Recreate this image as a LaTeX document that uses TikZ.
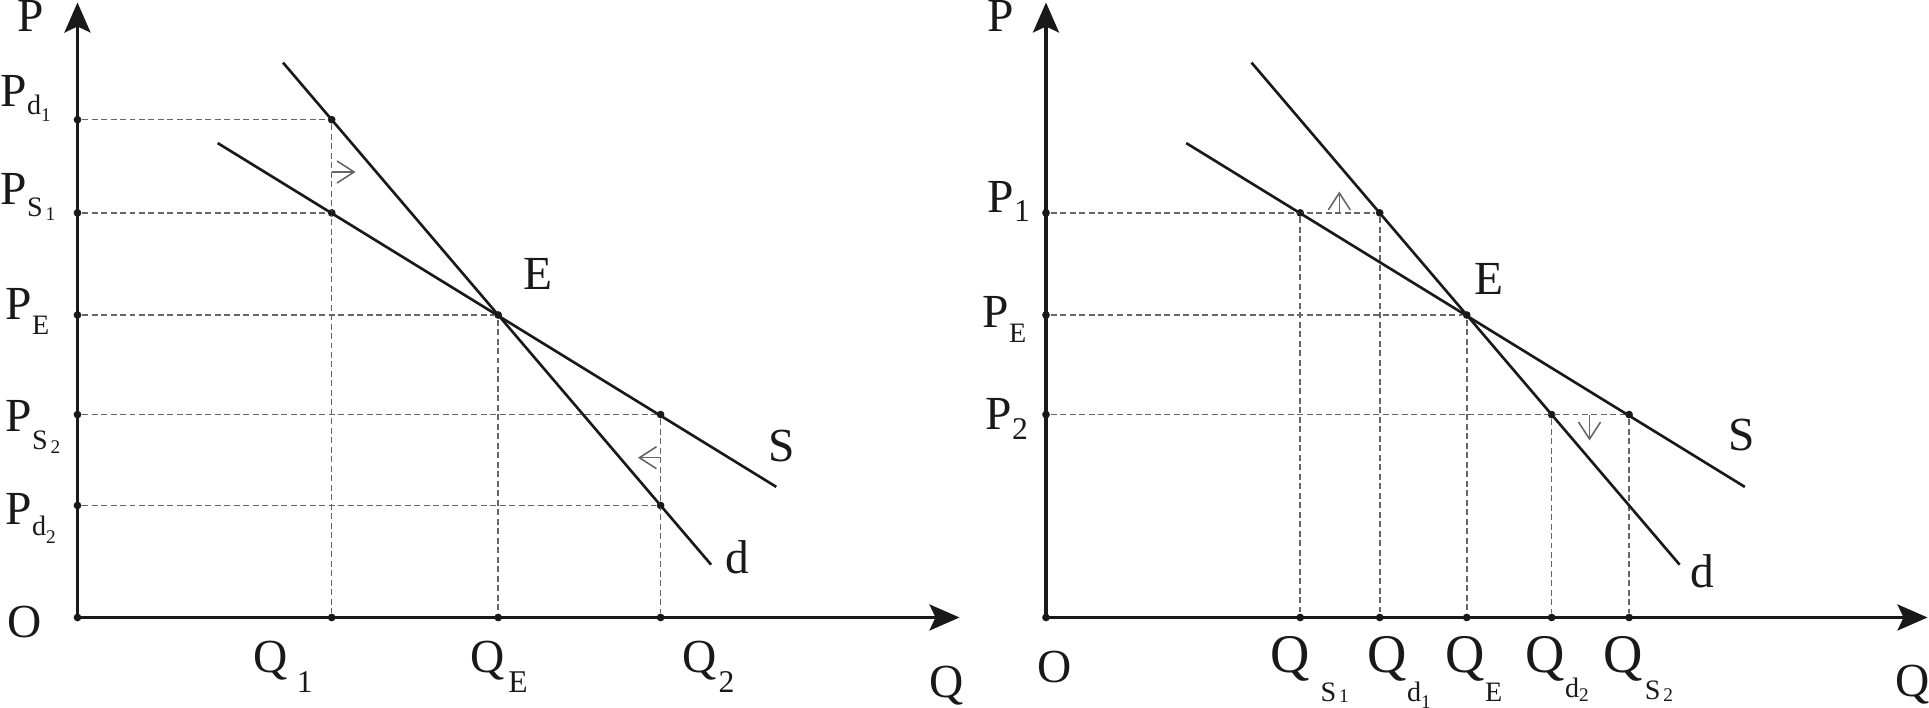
\documentclass[tikz,border=0pt]{standalone}
\usepackage{fontspec}
\setmainfont{Liberation Serif}
\usepackage{tikz}
\usetikzlibrary{arrows.meta}
\definecolor{ink}{rgb}{0.1,0.1,0.1}
\definecolor{guidegray}{rgb}{0.4,0.4,0.4}

% lowered subscripts as in the printed figure
\newcommand{\sbx}[2]{\raisebox{-#1}{\fontsize{8}{8}\selectfont #2}}
\newcommand{\ssbx}[2]{\raisebox{-#1}{\fontsize{5.5}{6}\selectfont #2}}
\newcommand{\qsb}[2]{\raisebox{-#1}{\fontsize{9}{9}\selectfont #2}}

\tikzset{
  axis/.style={ink, line width=0.9pt, -{Stealth[length=3mm,width=2.6mm,inset=0.6mm]}},
  curve/.style={ink, line width=0.75pt},
  guide/.style={guidegray, line width=0.45pt, dash pattern=on 1.7pt off 1pt},
  dot/.style={circle, fill=ink, inner sep=0pt, minimum size=2.2pt},
  nudge/.style={guidegray, line width=0.45pt, -{Straight Barb[length=1.7mm,width=2.2mm]}},
  lbl/.style={ink, inner sep=0pt, anchor=base west, font=\fontsize{13.5}{16}\selectfont},
  qlbl/.style={lbl, font=\fontsize{15.5}{18}\selectfont},
}

\begin{document}
\begin{tikzpicture}
\useasboundingbox (-0.775,-0.905) rectangle (18.515,6.175);

% left panel: shortage and surplus at P_d / P_S
\coordinate (O1) at (0,0);
\coordinate (yt1) at (0,6.15);
\coordinate (xt1) at (8.82,0);
\draw[axis] (O1) -- (yt1);
\draw[axis] (O1) -- (xt1);

\coordinate (dA1) at (2.055,5.549);
\coordinate (dB1) at (6.336,0.528);
\coordinate (sA1) at (1.402,4.744);
\coordinate (sB1) at (6.988,1.306);

\node[dot] (o1) at (0,0) {};
\node[dot] (E1) at (4.207,3.025) {};
\node[dot] (ad1) at (2.542,4.978) {};
\node[dot] (as1) at (2.542,4.046) {};
\node[dot] (as2) at (5.831,2.029) {};
\node[dot] (ad2) at (5.831,1.120) {};
\node[dot] (pd1) at (0,4.978) {};
\node[dot] (ps1) at (0,4.046) {};
\node[dot] (pe1) at (0,3.025) {};
\node[dot] (ps2) at (0,2.029) {};
\node[dot] (pd2) at (0,1.120) {};
\node[dot] (q1) at (2.542,0) {};
\node[dot] (qe1) at (4.207,0) {};
\node[dot] (q2) at (5.831,0) {};

\draw[guide] (pd1) -- (ad1);
\draw[guide] (ps1) -- (as1);
\draw[guide] (pe1) -- (E1);
\draw[guide] (ps2) -- (as2);
\draw[guide] (pd2) -- (ad2);
\draw[guide] (ad1) -- (q1);
\draw[guide] (E1) -- (qe1);
\draw[guide] (as2) -- (q2);

\draw[curve] (dA1) -- (dB1);
\draw[curve] (sA1) -- (sB1);

\coordinate (n1a) at (2.545,4.455);
\coordinate (n1b) at (2.78,4.455);
\coordinate (n2a) at (5.828,1.598);
\coordinate (n2b) at (5.605,1.598);
\draw[nudge] (n1a) -- (n1b);
\draw[nudge] (n2a) -- (n2b);

\node[lbl] (Pax1) at (-0.605,5.855) {P};
\node[lbl] (lPd1) at (-0.775,5.105) {P\sbx{2pt}{d\ssbx{2pt}{1}}};
\node[lbl] (lPs1) at (-0.775,4.125) {P\sbx{3.2pt}{S\hspace{0.8pt}\ssbx{1.2pt}{1}}};
\node[lbl] (lPe1) at (-0.725,2.975) {P\sbx{4.2pt}{E}};
\node[lbl] (lPs2) at (-0.725,1.855) {P\sbx{5pt}{S\hspace{0.8pt}\ssbx{1pt}{2}}};
\node[lbl] (lPd2) at (-0.725,0.925) {P\sbx{3pt}{d\ssbx{2.2pt}{2}}};
\node[lbl] (lO1) at (-0.708,-0.205) {O};
\node[lbl] (lQ1) at (1.755,-0.555) {Q\hspace{2.5pt}\qsb{5.5pt}{1}};
\node[lbl] (lQe1) at (3.925,-0.555) {Q\hspace{1pt}\qsb{5.6pt}{E}};
\node[lbl] (lQ2) at (6.045,-0.555) {Q\hspace{0.5pt}\qsb{5.5pt}{2}};
\node[lbl] (Qax1) at (8.515,-0.80) {Q};
\node[lbl] (lE1) at (4.455,3.275) {E};
\node[lbl] (lS1) at (6.905,1.56) {S};
\node[lbl] (ld1) at (6.475,0.44) {d};

% right panel: quantities demanded and supplied at P_1 / P_2
\begin{scope}[xshift=9.685cm]
\coordinate (O2) at (0,0);
\coordinate (yt2) at (0,6.15);
\coordinate (xt2) at (8.815,0);
\draw[axis] (O2) -- (yt2);
\draw[axis] (O2) -- (xt2);

\coordinate (dA2) at (2.055,5.549);
\coordinate (dB2) at (6.336,0.528);
\coordinate (sA2) at (1.402,4.744);
\coordinate (sB2) at (6.988,1.306);

\node[dot] (o2) at (0,0) {};
\node[dot] (E2) at (4.207,3.025) {};
\node[dot] (bs1) at (2.542,4.046) {};
\node[dot] (bd1) at (3.337,4.046) {};
\node[dot] (bd2) at (5.056,2.029) {};
\node[dot] (bs2) at (5.831,2.029) {};
\node[dot] (p1) at (0,4.046) {};
\node[dot] (pe2) at (0,3.025) {};
\node[dot] (p2) at (0,2.029) {};
\node[dot] (qs1) at (2.542,0) {};
\node[dot] (qd1) at (3.337,0) {};
\node[dot] (qe2) at (4.207,0) {};
\node[dot] (qd2) at (5.056,0) {};
\node[dot] (qs2) at (5.831,0) {};

\draw[guide] (p1) -- (bd1);
\draw[guide] (pe2) -- (E2);
\draw[guide] (p2) -- (bs2);
\draw[guide] (bs1) -- (qs1);
\draw[guide] (bd1) -- (qd1);
\draw[guide] (E2) -- (qe2);
\draw[guide] (bd2) -- (qd2);
\draw[guide] (bs2) -- (qs2);

\draw[curve] (dA2) -- (dB2);
\draw[curve] (sA2) -- (sB2);

\coordinate (n3a) at (2.933,4.05);
\coordinate (n3b) at (2.933,4.26);
\coordinate (n4a) at (5.435,2.025);
\coordinate (n4b) at (5.435,1.77);
\draw[nudge] (n3a) -- (n3b);
\draw[nudge] (n4a) -- (n4b);

\node[lbl] (Pax2) at (-0.59,5.855) {P};
\node[lbl] (lP1) at (-0.59,4.045) {P\qsb{2.5pt}{1}};
\node[lbl] (lPe2) at (-0.64,2.895) {P\sbx{4pt}{E}};
\node[lbl] (lP2) at (-0.61,1.875) {P\qsb{2.8pt}{2}};
\node[lbl] (lO2) at (-0.09,-0.655) {O};
\node[qlbl] (lQs1) at (2.24,-0.555) {Q\hspace{3pt}\sbx{8pt}{S\hspace{0.8pt}\ssbx{0.5pt}{1}}};
\node[qlbl] (lQd1) at (3.21,-0.555) {Q\sbx{8pt}{d\ssbx{2pt}{1}}};
\node[qlbl] (lQe2) at (3.99,-0.555) {Q\sbx{8pt}{E}};
\node[qlbl] (lQd2) at (4.79,-0.555) {Q\sbx{7pt}{d\ssbx{1pt}{2}}};
\node[qlbl] (lQs2) at (5.57,-0.555) {Q\hspace{0.5pt}\sbx{7.5pt}{S\hspace{0.8pt}\ssbx{0.5pt}{2}}};
\node[lbl] (Qax2) at (8.49,-0.795) {Q};
\node[lbl] (lE2) at (4.275,3.225) {E};
\node[lbl] (lS2) at (6.815,1.665) {S};
\node[lbl] (ld2) at (6.44,0.295) {d};
\end{scope}
\end{tikzpicture}
\end{document}
